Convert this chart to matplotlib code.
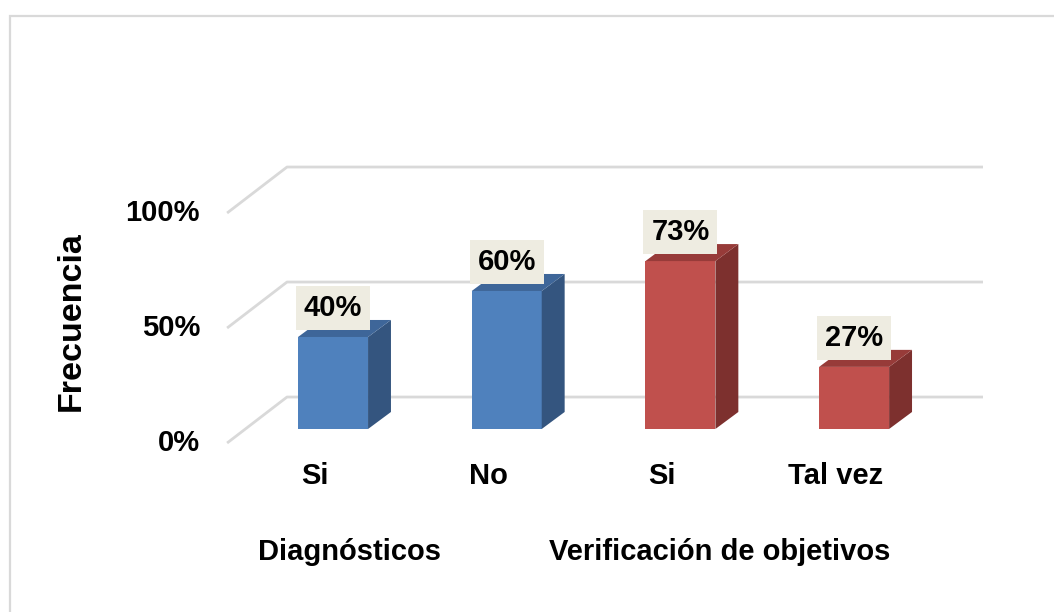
import matplotlib
matplotlib.use("Agg")
import matplotlib.pyplot as plt
from matplotlib.patches import Polygon, Rectangle

plt.rcParams["font.family"] = ["Liberation Sans", "DejaVu Sans"]
plt.rcParams["font.weight"] = "bold"

# ── Data ──────────────────────────────────────────────────────────────────────
categorias = ["Si", "No", "Si", "Tal vez"]
grupos = ["Diagnósticos", "Verificación de objetivos"]
grupo_de = [0, 0, 1, 1]
valores = [40, 60, 73, 27]
ticks_y = [0, 50, 100]
etiquetas_y = ["0%", "50%", "100%"]

# ── Styles (per group: front, side, top) ─────────────────────────────────────
COLORES = [("#4F81BD", "#34557F", "#3E6699"),
           ("#C0504D", "#7D302E", "#973B39")]
GRID = "#D9D9D9"
LABEL_BG = "#EEECE1"
FS = 21

W, H = 1054, 612
fig = plt.figure(figsize=(W / 100, H / 100), dpi=100)

# frame around the chart area (cut off at the right/bottom, as in the source)
fig.patches.append(Rectangle((10 / W, -0.1), 1.2, (H - 16) / H + 0.1,
                             transform=fig.transFigure, fill=False,
                             ec="#D9D9D9", lw=1.6))

# axes: 1 category = 173.7 px, 1 % = 2.3 px
ax = fig.add_axes([200 / W, (H - 460) / H, 800 / W, 310 / H])
ax.set_xlim(-0.766, 3.840)
ax.set_ylim(-13.48, 121.3)
ax.axis("off")

BAR_W = 0.403          # bar front width (category units)
BDX, BDY = 0.132, 7.4  # bar depth offset
FX, FOFF = -0.610, -6.1   # front-left corner of floor/wall
BX, BOFF = -0.265, 13.9   # back-left corner
RX = 3.742                # back-right end

# back wall gridlines + diagonal side-wall lines
for t in ticks_y:
    ax.plot([FX, BX, RX], [t + FOFF, t + BOFF, t + BOFF],
            color=GRID, lw=2, zorder=1, solid_capstyle="butt")

for t, lab in zip(ticks_y, etiquetas_y):
    ax.text(-0.766, t + FOFF, lab, ha="right", va="center",
            fontsize=FS, fontweight="bold")

xs = list(range(len(valores)))
fronts = [COLORES[g][0] for g in grupo_de]
ax.bar(xs, valores, width=BAR_W, color=fronts, zorder=3)

for x, v, g in zip(xs, valores, grupo_de):
    _, side, top = COLORES[g]
    r = x + BAR_W / 2
    l = x - BAR_W / 2
    ax.add_patch(Polygon([(r, 0), (r + BDX, BDY), (r + BDX, v + BDY), (r, v)],
                         closed=True, fc=side, ec="none", zorder=3))
    ax.add_patch(Polygon([(l, v), (r, v), (r + BDX, v + BDY), (l + BDX, v + BDY)],
                         closed=True, fc=top, ec="none", zorder=3))
    ax.text(x, v + 12.6, f"{v}%", ha="center", va="center",
            fontsize=FS, fontweight="bold", zorder=5,
            bbox=dict(boxstyle="square,pad=0.27", fc=LABEL_BG, ec="none"))

# category labels (shifted to the front edge of the floor)
for x, c in zip(xs, categorias):
    ax.text(x - 0.104, -20.4, c, ha="center", va="center",
            fontsize=FS, fontweight="bold")

# group labels
for gx, gname in zip([0.092, 2.228], grupos):
    ax.text(gx, -53.5, gname, ha="center", va="center",
            fontsize=FS, fontweight="bold")

fig.text(71 / W, 1 - 321 / H, "Frecuencia", rotation=90, ha="center",
         va="center", fontsize=24.5, fontweight="bold")

fig.savefig("out.png", dpi=100)
